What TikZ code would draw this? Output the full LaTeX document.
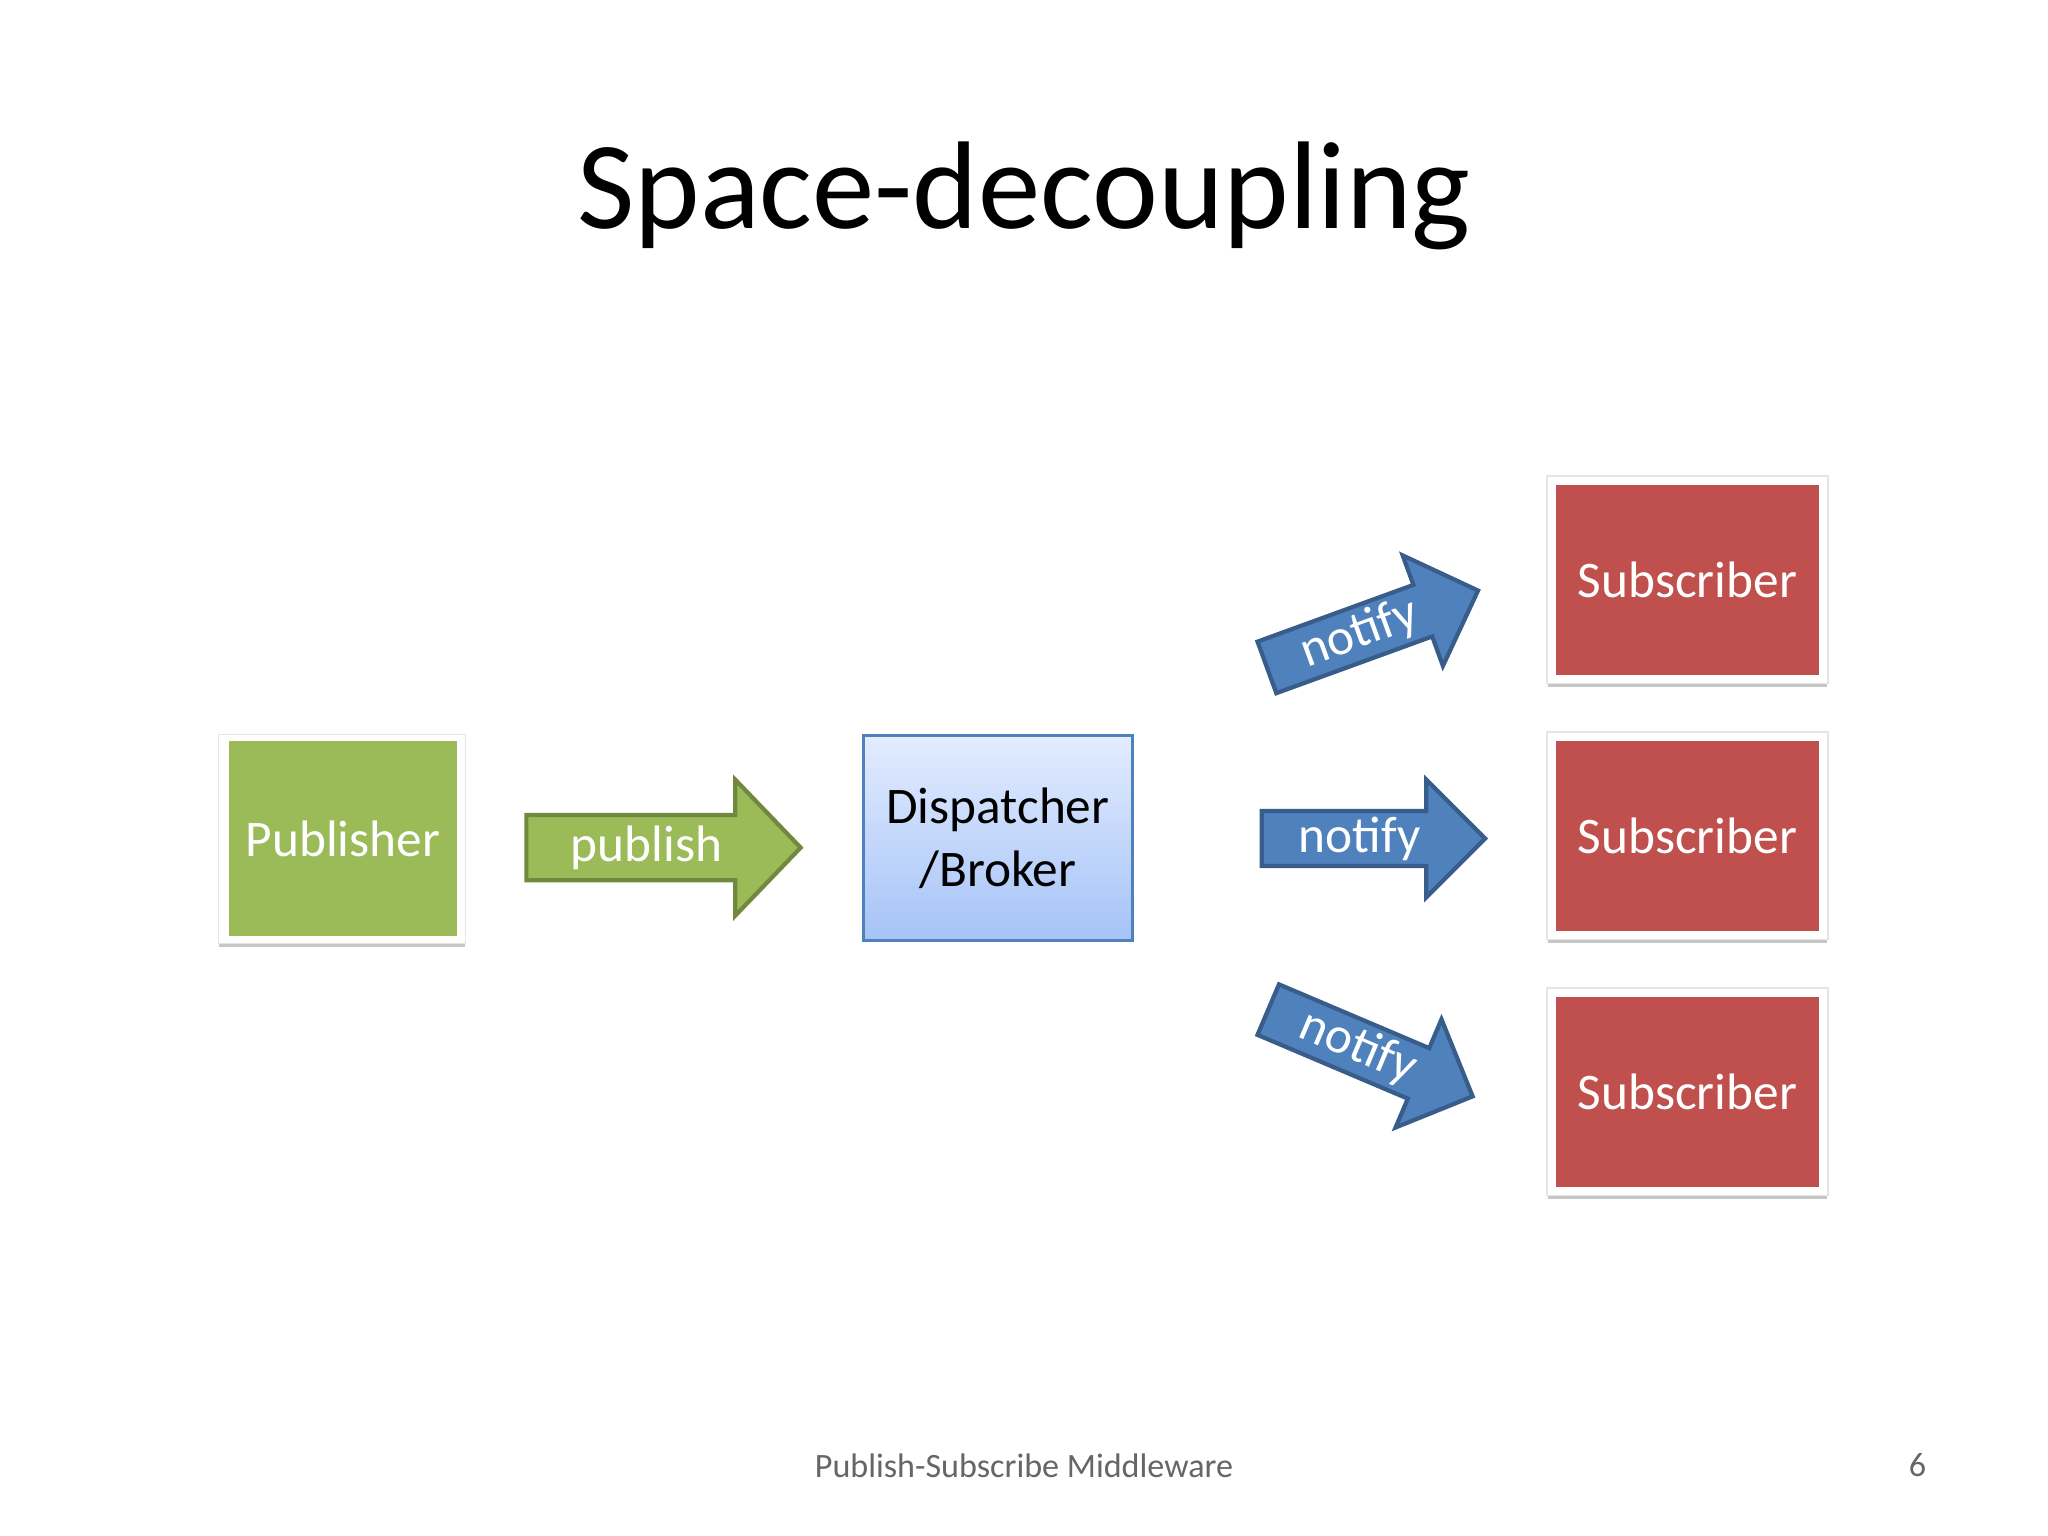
\documentclass[tikz,border=0pt]{standalone}
\usepackage{fontspec}
\setmainfont{Carlito}
\definecolor{pgreen}{HTML}{9BBB59}
\definecolor{pgreenb}{HTML}{71893F}
\definecolor{sred}{HTML}{C0504D}
\definecolor{nblue}{HTML}{4F81BD}
\definecolor{nblueb}{HTML}{385D8A}
\definecolor{dtop}{HTML}{E3ECFF}
\definecolor{dbot}{HTML}{A5C3F7}
\newcommand{\blkarrow}[9]{% name, x, y (tail centre), angle, L, w, h, hl, style; text = \arrtext
  \begin{scope}[shift={(#2,#3)},rotate=#4]
    \draw[#9] (0,-#6) -- ({#5-#8},-#6) -- ({#5-#8},-#7) -- (#5,0) -- ({#5-#8},#7) -- ({#5-#8},#6) -- (0,#6) -- cycle;
    \node[txt,transform shape] (#1) at ({(#5-#8)/2+12},0) {\arrtext};
  \end{scope}}
\begin{document}
\begin{tikzpicture}[x=0.013061cm,y=0.013061cm,
  txt/.style={font=\fontsize{14.6}{17}\selectfont,text=white,inner sep=0},
  boxtxt/.style={font=\fontsize{14.6}{17}\selectfont,text=white},
  garrow/.style={fill=pgreen,draw=pgreenb,line width=1.2pt},
  barrow/.style={fill=nblue,draw=nblueb,line width=1.2pt}]
\useasboundingbox (0,0) rectangle (1568,1176);
\fill[white] (0,0) rectangle (1568,1176);
\node[font=\fontsize{35.5}{42}\selectfont] (title) at (784,1026) {Space-decoupling};
\node[font=\fontsize{9.7}{12}\selectfont,text=black!60] (footer) at (784,54) {Publish-Subscribe Middleware};
\node[font=\fontsize{9.7}{12}\selectfont,text=black!60] (pagenum) at (1468,54) {6};
% publisher
\fill[black!22] (168,451) rectangle (356,611);
\fill[black!10] (167,453) rectangle (357,614);
\fill[white] (168,454) rectangle (356,613);
\fill[pgreen] (175,459) rectangle (350,609);
\node[boxtxt] (pub) at (262.5,534) {Publisher};
% subscribers
\foreach \yy/\nm in {730/s1,534/s2,338/s3}{
  \fill[black!22] (1185,\yy-80) rectangle (1399,\yy+80);
  \fill[black!10] (1184,\yy-78) rectangle (1400,\yy+82);
  \fill[white] (1185,\yy-77) rectangle (1399,\yy+81);
  \fill[sred] (1191,\yy-71) rectangle (1393,\yy+75);
  \node[boxtxt] (\nm) at (1292,\yy+2) {Subscriber};
}
% dispatcher
\shade[top color=dtop,bottom color=dbot,draw=nblue,line width=0.8pt] (661,456) rectangle (867,613);
\node[align=center,font=\fontsize{14.6}{18}\selectfont] (disp) at (764,534) {Dispatcher\\/Broker};
% arrows
\def\arrtext{publish}
\blkarrow{publish}{403}{527}{0}{210}{25}{52}{50}{garrow}
\def\arrtext{notify}
\blkarrow{notifyM}{966}{534}{0}{171}{21}{45}{45}{barrow}
\blkarrow{notifyT}{970}{665}{20}{172}{21}{45}{45}{barrow}
\blkarrow{notifyB}{971}{403}{-23}{170}{21}{45}{45}{barrow}
\end{tikzpicture}
\end{document}
